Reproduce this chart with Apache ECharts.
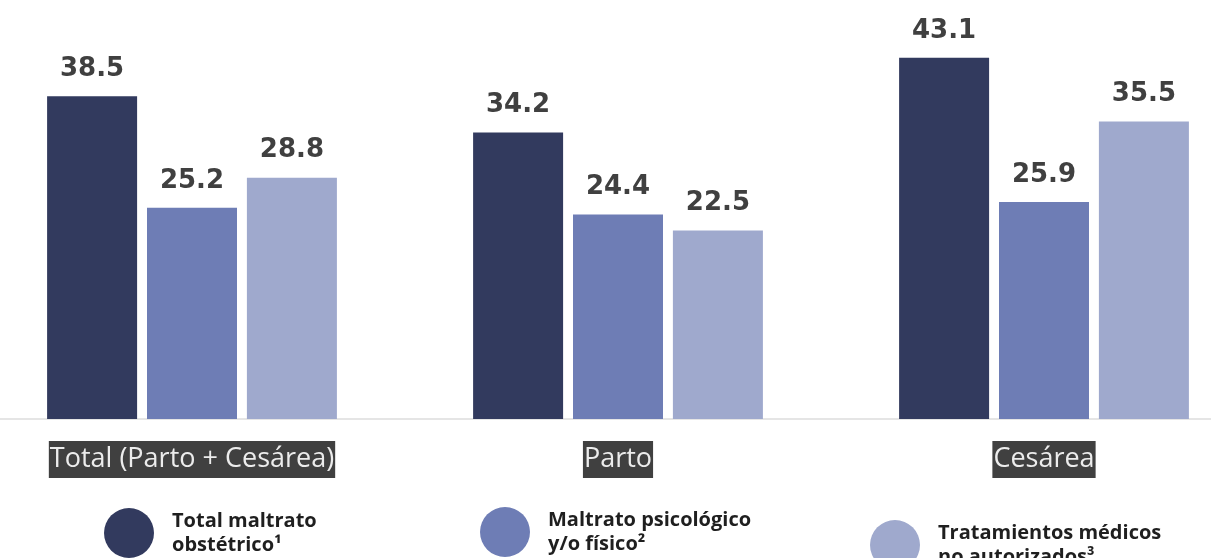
<!DOCTYPE html>
<html>
<head>
<meta charset="utf-8">
<script src="https://cdn.jsdelivr.net/npm/echarts@6/dist/echarts.min.js"></script>
<style>
html,body{margin:0;padding:0;background:#fff;}
#chart{width:1211px;height:558px;}
</style>
</head>
<body>
<div id="chart"></div>
<script>
var categories = ['Total (Parto + Cesárea)', 'Parto', 'Cesárea'];
var seriesNames = ['Total maltrato obstétrico¹', 'Maltrato psicológico y/o físico²', 'Tratamientos médicos no autorizados³'];
var legendLabels = ['Total maltrato\nobstétrico¹', 'Maltrato psicológico\ny/o físico²', 'Tratamientos médicos\nno autorizados³'];
var totalValues = [38.5, 34.2, 43.1];
var psicoValues = [25.2, 24.4, 25.9];
var tratValues = [28.8, 22.5, 35.5];
var colors = ['#323a5e', '#6e7db5', '#9fa9cd'];

var chart = echarts.init(document.getElementById('chart'), null, {renderer: 'canvas'});

function makeSeries(i, data) {
  return {
    name: seriesNames[i],
    type: 'bar',
    data: data,
    barWidth: 90,
    barGap: '11%',
    itemStyle: {color: colors[i]},
    label: {
      show: true,
      position: 'top',
      distance: 14,
      fontFamily: 'DejaVu Sans',
      fontWeight: 'bold',
      fontSize: 26,
      color: '#404040',
      formatter: function (p) { return p.value.toFixed(1); }
    }
  };
}

function makeLegend(i, left, top) {
  return {
    data: [seriesNames[i]],
    left: left,
    top: top,
    padding: 0,
    icon: 'circle',
    itemWidth: 50,
    itemHeight: 50,
    selectedMode: false,
    formatter: function () { return legendLabels[i]; },
    textStyle: {
      fontFamily: 'Open Sans',
      fontWeight: 'bold',
      fontSize: 20,
      lineHeight: 24,
      color: '#1f1f1f',
      padding: [0, 0, 0, 13]
    }
  };
}

chart.setOption({
  animation: false,
  grid: {left: -21, right: -46, top: 0, bottom: 139, containLabel: false, outerBoundsMode: 'none'},
  xAxis: {
    type: 'category',
    data: categories,
    axisTick: {show: false},
    axisLine: {lineStyle: {color: '#dcdcdc', width: 1.5}},
    axisLabel: {
      margin: 22,
      fontFamily: 'Open Sans',
      fontSize: 27,
      lineHeight: 31,
      color: '#ececec',
      backgroundColor: '#404040',
      padding: [3, 1, 3, 1]
    }
  },
  yAxis: {
    type: 'value',
    min: 0,
    max: 50,
    show: false,
    splitLine: {show: false}
  },
  legend: [
    makeLegend(0, 104, 508),
    makeLegend(1, 480, 507),
    makeLegend(2, 870, 520)
  ],
  series: [
    makeSeries(0, totalValues),
    makeSeries(1, psicoValues),
    makeSeries(2, tratValues)
  ]
});
</script>
</body>
</html>
